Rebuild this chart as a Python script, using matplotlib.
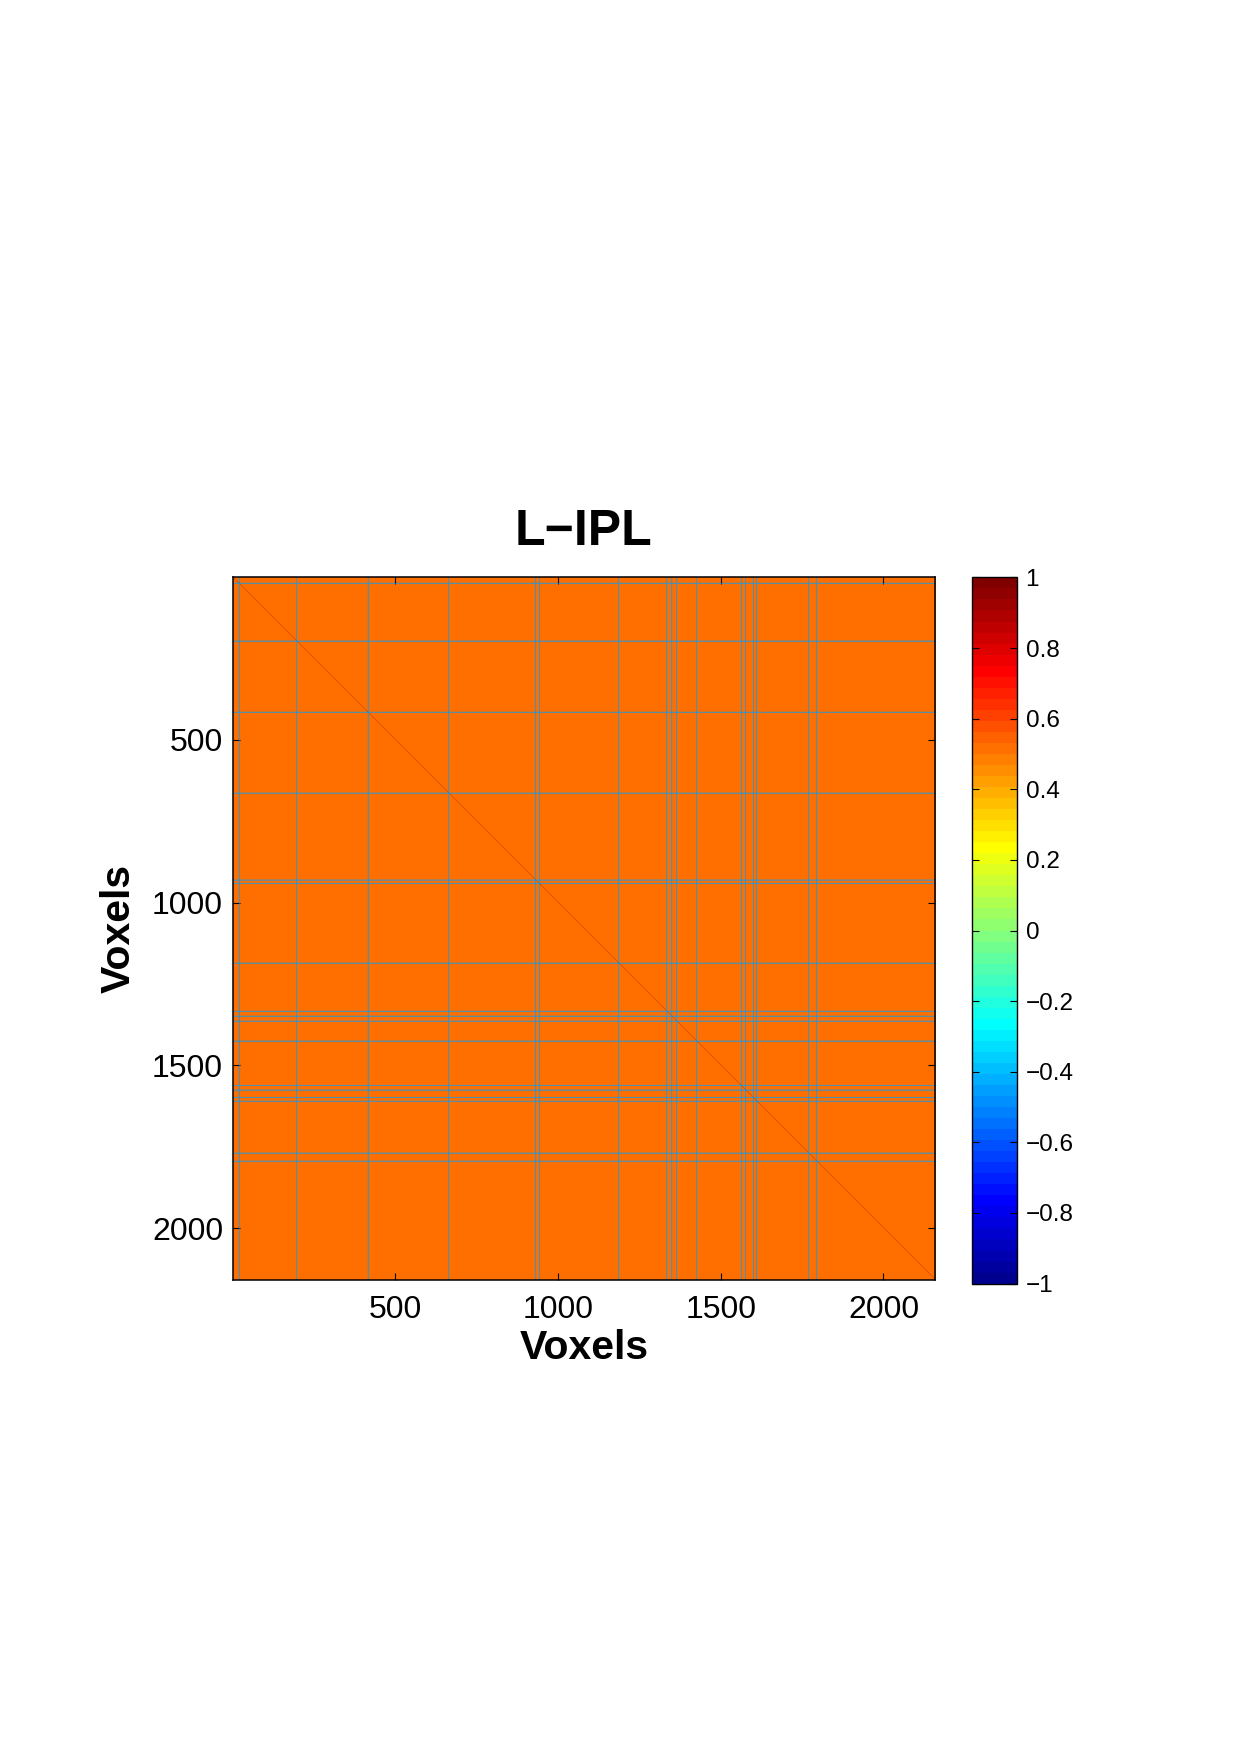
import numpy as np
import matplotlib
matplotlib.use("Agg")
import matplotlib.pyplot as plt
from matplotlib.colors import ListedColormap, Normalize
from matplotlib.ticker import FuncFormatter

plt.rcParams['font.family'] = ['Liberation Sans', 'DejaVu Sans']

# ---------------- data ----------------
title = "L\u2212IPL"
n_voxels = 2158
base_corr = 0.51          # near-uniform correlation between voxels
diag_corr = 1.0           # self-correlation
outlier_corr = -0.45      # voxels whose rows/columns differ
outlier_voxels = [19, 196, 415, 663, 929, 941, 1185, 1333, 1348, 1363,
                  1424, 1561, 1574, 1598, 1609, 1768, 1793]
axis_ticks = [500, 1000, 1500, 2000]
cbar_ticks = [-1, -0.8, -0.6, -0.4, -0.2, 0, 0.2, 0.4, 0.6, 0.8, 1]
clim = (-1, 1)

# ---------------- matrix ----------------
M = np.full((n_voxels, n_voxels), base_corr, dtype=float)
idx = np.array(outlier_voxels) - 1
M[idx, :] = outlier_corr
M[:, idx] = outlier_corr
np.fill_diagonal(M, diag_corr)


def matlab_jet(m=64):
    n = int(np.ceil(m / 4))
    u = np.concatenate([np.arange(1, n + 1) / n, np.ones(n - 1), np.arange(n, 0, -1) / n])
    g = int(np.ceil(n / 2)) - (1 if m % 4 == 1 else 0) + np.arange(1, len(u) + 1)
    r = g + n
    b = g - n
    J = np.zeros((m, 3))
    for ch, ind in enumerate([r, g, b]):
        ok = (ind >= 1) & (ind <= m)
        J[ind[ok] - 1, ch] = u[ok]
    return ListedColormap(J)


cmap = matlab_jet(64)
norm = Normalize(*clim)

fig = plt.figure(figsize=(12.4, 17.55), dpi=100)
ax = fig.add_axes([0.1877, 0.2707, 0.5664, 0.4004])
im = ax.imshow(M, cmap=cmap, norm=norm, interpolation='antialiased',
               extent=(0.5, n_voxels + 0.5, n_voxels + 0.5, 0.5), aspect='auto')

line_col = cmap(norm(outlier_corr))
for v in outlier_voxels:
    ax.axhline(v, color=line_col, alpha=0.55, lw=0.8)
    ax.axvline(v, color=line_col, alpha=0.55, lw=0.8)

ax.set_xlim(0.5, n_voxels + 0.5)
ax.set_ylim(n_voxels + 0.5, 0.5)
ax.set_xticks(axis_ticks)
ax.set_yticks(axis_ticks)
ax.tick_params(direction='in', top=True, right=True, length=5, width=0.8,
               labelsize=23)
ax.tick_params(axis='x', pad=11)
ax.tick_params(axis='y', pad=7)
for s in ax.spines.values():
    s.set_linewidth(1.1)

ax.set_title(title, fontsize=36, fontweight='bold', pad=23)
ax.set_xlabel("Voxels", fontsize=29.5, fontweight='bold', labelpad=3)
ax.set_ylabel("Voxels", fontsize=29.5, fontweight='bold', labelpad=10)

cax = fig.add_axes([0.7835, 0.2686, 0.0363, 0.4024])
cb = fig.colorbar(im, cax=cax, ticks=cbar_ticks)
cb.outline.set_linewidth(1.0)


def fmt(v, pos):
    s = f"{v:g}"
    if s in ("-0", "0.0", "-0.0"):
        s = "0"
    return s.replace("-", "\u2212")


cb.ax.yaxis.set_major_formatter(FuncFormatter(fmt))
cb.ax.tick_params(direction='in', left=True, right=True, length=5, width=0.8,
                  labelsize=17.5, pad=6.5)

fig.savefig("out.png", dpi=100)
